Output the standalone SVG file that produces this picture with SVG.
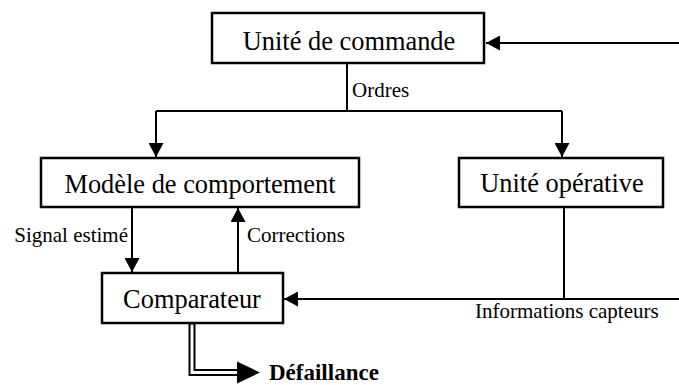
<svg xmlns="http://www.w3.org/2000/svg" width="679" height="385" viewBox="0 0 679 385">
<style>
.box{fill:#fff;stroke:#000;stroke-width:2.5}
.node{font-family:"Liberation Serif","Times New Roman",serif;font-size:26.4px;fill:#000;text-anchor:middle}
.lbl{font-family:"Liberation Serif","Times New Roman",serif;font-size:21px;fill:#000}
.ln{fill:none;stroke:#000;stroke-width:2}
</style>
<defs>
<marker id="arr" viewBox="0 0 14 15" refX="14" refY="7.5" markerWidth="14" markerHeight="15" markerUnits="userSpaceOnUse" orient="auto">
<path d="M0,0 L14,7.5 L0,15 z" fill="#000"/>
</marker>
</defs>
<rect width="679" height="385" fill="#fff"/>
<g id="connectors">
<path class="ln" d="M679,43 H486" marker-end="url(#arr)"/>
<path class="ln" d="M347,63 V111"/>
<path class="ln" d="M156,111 H562"/>
<path class="ln" d="M156,111 V157" marker-end="url(#arr)"/>
<path class="ln" d="M562,111 V157" marker-end="url(#arr)"/>
<path class="ln" d="M132,207 V272" marker-end="url(#arr)"/>
<path class="ln" d="M238,273 V208" marker-end="url(#arr)"/>
<path class="ln" d="M564,207 V299"/>
<path class="ln" d="M679,299 H284" marker-end="url(#arr)"/>
<path d="M192,323 V372.5 H238" fill="none" stroke="#000" stroke-width="7" stroke-linejoin="miter"/>
<path d="M192,324.5 V372.5 H238" fill="none" stroke="#fff" stroke-width="3" stroke-linejoin="miter"/>
<polygon points="237,361.5 260,372.5 237,383.5" fill="#000"/>
<text class="lbl" x="352" y="97">Ordres</text>
<text class="lbl" x="128" y="242" text-anchor="end">Signal estimé</text>
<text class="lbl" x="247" y="242">Corrections</text>
<text class="lbl" x="475" y="318">Informations capteurs</text>
<text x="269" y="380" font-family="Liberation Serif,'Times New Roman',serif" font-size="23px" font-weight="bold">Défaillance</text>
</g>
<g id="unite-commande">
<rect class="box" x="212" y="13" width="272" height="50"/>
<text class="node" x="349" y="50">Unité de commande</text>
</g>
<g id="modele">
<rect class="box" x="41" y="158" width="318" height="49"/>
<text class="node" x="200" y="193">Modèle de comportement</text>
</g>
<g id="unite-operative">
<rect class="box" x="459" y="158" width="204" height="49"/>
<text class="node" x="562" y="192">Unité opérative</text>
</g>
<g id="comparateur">
<rect class="box" x="102" y="273" width="181" height="50"/>
<text class="node" x="192" y="308">Comparateur</text>
</g>
</svg>
